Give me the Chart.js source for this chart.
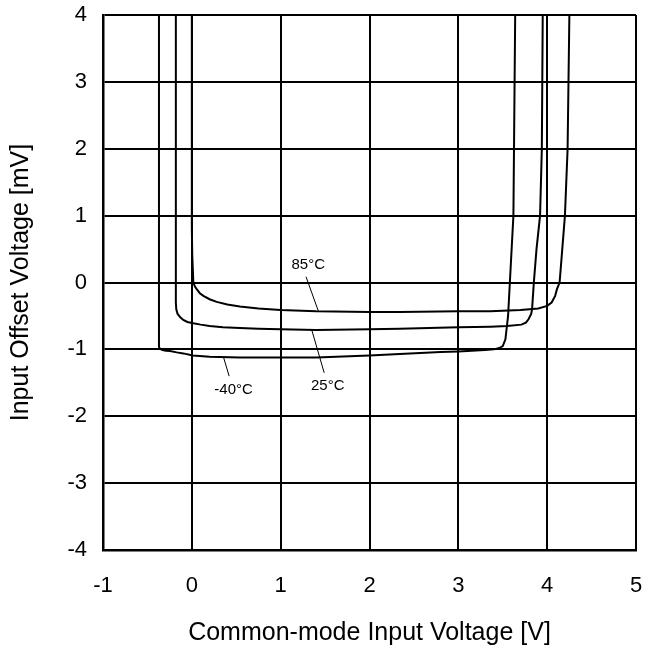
<!DOCTYPE html>
<html>
<head>
<meta charset="utf-8">
<title>Input Offset Voltage vs Common-mode Input Voltage</title>
<script src="https://cdn.jsdelivr.net/npm/chart.js@4.4.1/dist/chart.umd.min.js"></script>
<style>
    html, body { margin: 0; padding: 0; background: #fff; }
    #wrap { width: 656px; height: 655px; }
</style>
</head>
<body>
<div id="wrap"><canvas id="vos-chart"></canvas></div>
<script>
// Axis ranges and ticks
const xMin = -1, xMax = 5, xStep = 1;
const yMin = -4, yMax = 4, yStep = 1;

// Vos [mV] vs Vcm [V] at 85°C
const vcm85 = [0.00, 0.00, 0.005, 0.017, 0.035, 0.055, 0.09, 0.13, 0.20, 0.28, 0.40, 0.54, 0.75, 1.00, 1.40, 2.00, 2.34, 3.00, 3.36, 3.70, 3.90, 4.00, 4.05, 4.09, 4.11, 4.14, 4.17, 4.20, 4.23, 4.25];
const vos85 = [4.00, 0.80, 0.40, 0.00, -0.06, -0.10, -0.16, -0.20, -0.25, -0.29, -0.33, -0.36, -0.39, -0.41, -0.43, -0.44, -0.44, -0.43, -0.43, -0.41, -0.39, -0.35, -0.30, -0.20, -0.10, 0.00, 0.50, 1.00, 2.00, 4.00];

// 25°C
const vcm25 = [-0.18, -0.18, -0.175, -0.16, -0.13, -0.096, -0.05, 0.017, 0.10, 0.20, 0.35, 0.54, 0.75, 1.00, 1.40, 2.00, 2.34, 3.00, 3.36, 3.55, 3.71, 3.76, 3.79, 3.82, 3.83, 3.85, 3.88, 3.92, 3.94, 3.95];
const vos25 = [4.00, -0.30, -0.40, -0.47, -0.52, -0.56, -0.59, -0.61, -0.63, -0.65, -0.67, -0.68, -0.69, -0.70, -0.71, -0.70, -0.69, -0.67, -0.66, -0.65, -0.63, -0.60, -0.55, -0.47, -0.40, 0.00, 0.50, 1.00, 2.00, 4.00];

// -40°C
const vcmM40 = [-0.37, -0.37, -0.36, -0.33, -0.29, -0.245, -0.17, -0.096, 0.01, 0.20, 0.54, 1.00, 1.40, 2.00, 2.34, 2.80, 3.00, 3.30, 3.40, 3.46, 3.50, 3.53, 3.56, 3.58, 3.60, 3.62, 3.64];
const vosM40 = [4.00, -0.96, -0.99, -1.01, -1.02, -1.025, -1.045, -1.06, -1.09, -1.11, -1.12, -1.12, -1.12, -1.09, -1.07, -1.04, -1.03, -1.01, -1.00, -0.98, -0.95, -0.85, -0.50, 0.00, 0.50, 1.00, 4.00];

// Curve labels: text, label position, leader start (on curve), leader end
const labelText = ['85°C', '25°C', '-40°C'];
const labelX = [1.31, 1.53, 0.47];
const labelY = [0.27, -1.55, -1.60];
const leaderFromX = [1.425, 1.35, 0.355];
const leaderFromY = [-0.43, -0.71, -1.11];
const leaderToX = [1.286, 1.49, 0.42];
const leaderToY = [0.085, -1.35, -1.40];

const FONT = "'Liberation Sans', Arial, sans-serif";

function toPoints(xs, ys) {
    return xs.map((x, i) => ({ x: x, y: ys[i] }));
}

function curve(xs, ys) {
    return {
        data: toPoints(xs, ys),
        showLine: true,
        borderColor: '#000',
        borderWidth: 2,
        pointRadius: 0,
        tension: 0
    };
}

const datasets = [curve(vcm85, vos85), curve(vcm25, vos25), curve(vcmM40, vosM40)];

// leader lines from each curve to its label
labelText.forEach((t, i) => {
    datasets.push({
        data: [{ x: leaderFromX[i], y: leaderFromY[i] }, { x: leaderToX[i], y: leaderToY[i] }],
        showLine: true,
        borderColor: '#000',
        borderWidth: 1,
        pointRadius: 0
    });
});

// draws the temperature labels at their data positions
const curveLabels = {
    id: 'curveLabels',
    afterDatasetsDraw(chart) {
        const ctx = chart.ctx;
        const xs = chart.scales.x, ys = chart.scales.y;
        ctx.save();
        ctx.fillStyle = '#000';
        ctx.font = '15px ' + FONT;
        ctx.textAlign = 'center';
        ctx.textBaseline = 'middle';
        labelText.forEach((t, i) => {
            ctx.fillText(t, xs.getPixelForValue(labelX[i]), ys.getPixelForValue(labelY[i]));
        });
        ctx.restore();
    }
};

new Chart(document.getElementById('vos-chart'), {
    type: 'scatter',
    data: { datasets: datasets },
    options: {
        responsive: true,
        maintainAspectRatio: false,
        animation: false,
        events: [],
        layout: { padding: { top: 15, right: 20, left: 0, bottom: 0 } },
        plugins: {
            legend: { display: false },
            tooltip: { enabled: false }
        },
        scales: {
            x: {
                type: 'linear',
                min: xMin,
                max: xMax,
                // fixed axis height; tick labels may overhang the plot edges
                afterFit: (scale) => {
                    scale.height = 105;
                    scale.paddingLeft = 0;
                    scale.paddingRight = 0;
                },
                ticks: {
                    stepSize: xStep,
                    color: '#000',
                    padding: 23,
                    font: { family: FONT, size: 22 }
                },
                grid: { color: '#000', lineWidth: 2, drawTicks: false },
                border: { color: '#000', width: 2.5 },
                title: {
                    display: true,
                    text: 'Common-mode Input Voltage [V]',
                    color: '#000',
                    font: { family: FONT, size: 25 },
                    padding: { top: 0, bottom: 7 }
                }
            },
            y: {
                type: 'linear',
                min: yMin,
                max: yMax,
                afterFit: (scale) => {
                    scale.width = 103;
                    scale.paddingTop = 0;
                    scale.paddingBottom = 0;
                },
                ticks: {
                    stepSize: yStep,
                    color: '#000',
                    padding: 16,
                    font: { family: FONT, size: 22 }
                },
                grid: { color: '#000', lineWidth: 2, drawTicks: false },
                border: { color: '#000', width: 2.5 },
                title: {
                    display: true,
                    text: 'Input Offset Voltage [mV]',
                    color: '#000',
                    font: { family: FONT, size: 25 },
                    padding: { top: 6, bottom: 0 }
                }
            }
        }
    },
    plugins: [curveLabels]
});
</script>
</body>
</html>
